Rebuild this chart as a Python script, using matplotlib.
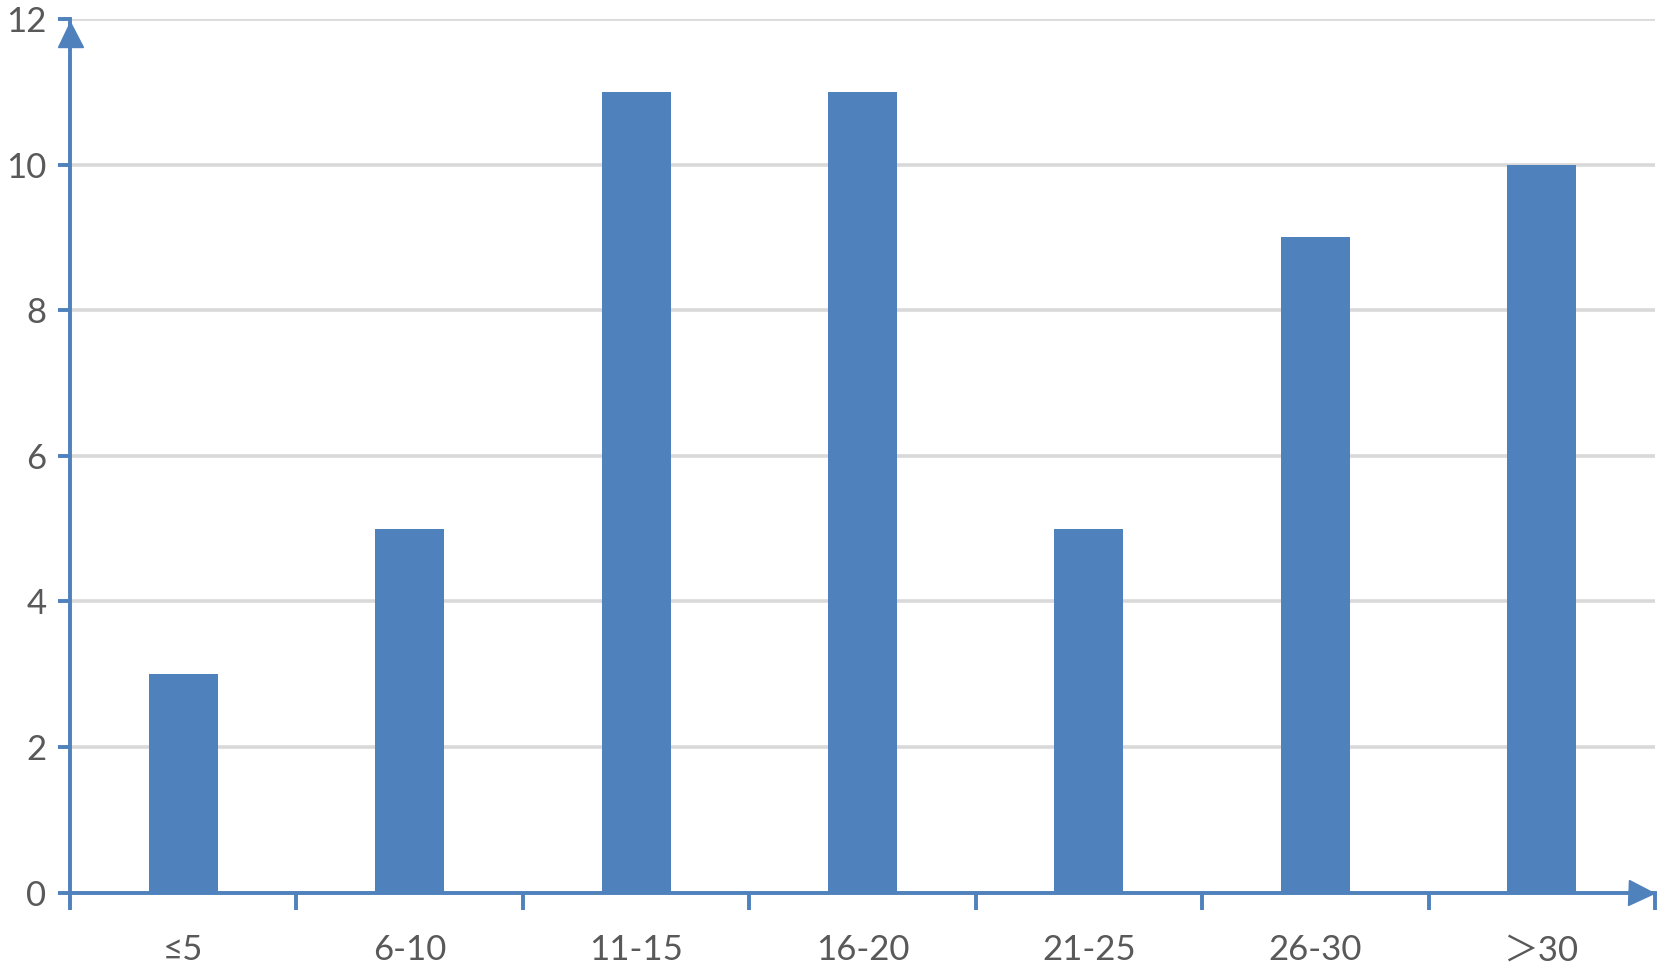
import matplotlib
matplotlib.use('Agg')
import matplotlib.pyplot as plt

categories = ['≤5', '6-10', '11-15', '16-20', '21-25', '26-30', '＞30']
counts = [3, 5, 11, 11, 5, 9, 10]
yticks = [0, 2, 4, 6, 8, 10, 12]

blue = '#4f81bd'
textc = '#595959'

plt.rcParams['font.family'] = ['Lato', 'Noto Sans CJK SC', 'DejaVu Sans']

fig = plt.figure(figsize=(16.66, 9.69), dpi=100)
ax = fig.add_axes([70 / 1666, 1 - 892.5 / 969, 1585 / 1666, 873.5 / 969])

x = list(range(len(categories)))
ax.bar(x, counts, width=0.305, color=blue, zorder=3)

ax.set_xlim(-0.5, len(categories) - 0.5)
ax.set_ylim(0, 12)
ax.set_yticks(yticks)
ax.grid(axis='y', color='#d9d9d9', linewidth=2.6, zorder=0)

# category boundaries as major ticks, labels on minor ticks at centres
ax.set_xticks([i - 0.5 for i in range(len(categories) + 1)])
ax.set_xticklabels([])
ax.set_xticks(x, minor=True)
ax.set_xticklabels(categories, minor=True)
ax.tick_params(axis='x', which='major', length=12, width=2.8, color=blue)
ax.tick_params(axis='x', which='minor', length=0, pad=30, labelsize=25, labelcolor=textc)
ax.tick_params(axis='y', length=9, width=2.8, color=blue, pad=8, labelsize=25, labelcolor=textc)

for s in ['top', 'right']:
    ax.spines[s].set_visible(False)
for s in ['left', 'bottom']:
    ax.spines[s].set_color(blue)
    ax.spines[s].set_linewidth(2.8)
    ax.spines[s].set_zorder(4)

# arrow heads on the axes
ax.plot([0], [0.9823], marker='^', markersize=18, color=blue, transform=ax.transAxes,
        clip_on=False, zorder=5)
ax.plot([0.991], [0], marker='>', markersize=18, color=blue, transform=ax.transAxes,
        clip_on=False, zorder=5)

fig.savefig('out.png', dpi=100)
